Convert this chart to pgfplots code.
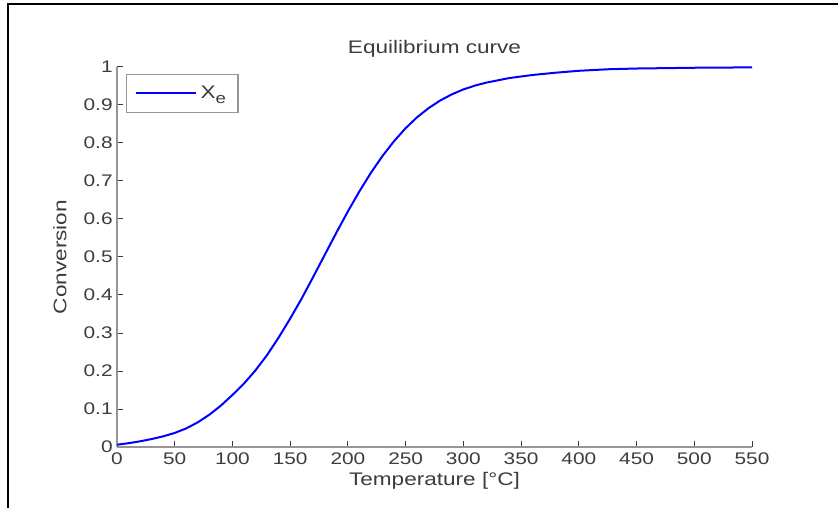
\documentclass[border=0pt]{standalone}
\usepackage{fontspec}
\setmainfont[FakeStretch=1.24]{Liberation Sans}
\usepackage{pgfplots}
\pgfplotsset{compat=1.18}
\definecolor{axgray}{RGB}{150,150,150}
\definecolor{txtgray}{RGB}{60,60,60}
\begin{document}
\begin{tikzpicture}
\useasboundingbox (0,0) rectangle (419pt,254pt);
\draw[line width=1pt] (4pt,0) -- (4pt,252pt) -- (419pt,252pt);
\begin{axis}[
  at={(58.5pt,30.5pt)}, anchor=south west,
  scale only axis, width=317.5pt, height=190pt,
  xmin=0, xmax=550, ymin=0, ymax=1,
  axis x line*=bottom, axis y line*=left,
  axis line style={-, axgray, line width=0.6pt},
  tick align=inside, major tick length=3pt,
  tick style={txtgray, line width=0.5pt},
  xtick={0,50,...,550},
  xticklabels={0,50,100,150,200,250,300,350,400,450,500,550},
  ytick={0,0.1,0.2,0.3,0.4,0.5,0.6,0.7,0.8,0.9,1},
  yticklabels={0,0.1,0.2,0.3,0.4,0.5,0.6,0.7,0.8,0.9,1},
  tick label style={font=\fontsize{8.4}{10}\selectfont, text=txtgray},
  yticklabel style={inner sep=1pt, xshift=-1pt},
  xticklabel style={inner sep=1pt, yshift=-1.5pt},
  every axis title shift=0pt,
  title={Equilibrium curve},
  title style={at={(axis description cs:0.5,1)}, anchor=center, yshift=9pt, font=\fontsize{9.1}{11}\selectfont, text=txtgray},
  xlabel={Temperature [°C]},
  xlabel style={at={(axis description cs:0.5,0)}, anchor=center, yshift=-17pt, font=\fontsize{9.1}{11}\selectfont, text=txtgray},
  ylabel={Conversion},
  ylabel style={at={(axis description cs:-0.0898,0.5)}, anchor=center, font=\fontsize{9.1}{11}\selectfont, text=txtgray},
  legend style={at={(axis description cs:0,1)}, anchor=north west, xshift=4.5pt, yshift=-3.5pt,
    draw=axgray, line width=0.6pt, inner xsep=4pt, inner ysep=3.5pt,
    font=\fontsize{9.1}{11}\selectfont, text=txtgray},
  legend image code/.code={\draw[#1] (0pt,0pt) -- (30pt,0pt);},
]
\addplot[blue, line width=1pt] coordinates {
(0,0.006) (10,0.010) (20,0.015) (30,0.021) (40,0.028) (50,0.037)
(60,0.049) (70,0.065) (80,0.085) (90,0.109) (100,0.137) (110,0.167)
(120,0.202) (130,0.242) (140,0.288) (150,0.338) (160,0.391) (170,0.448)
(180,0.506) (190,0.564) (200,0.620) (210,0.673) (220,0.722)
(230,0.766) (240,0.805) (250,0.839) (260,0.868) (270,0.892) (280,0.912)
(290,0.928) (300,0.941) (310,0.951) (320,0.959) (330,0.965) (340,0.971)
(350,0.975) (360,0.979) (380,0.985) (400,0.990) (425,0.994) (450,0.996)
(475,0.997) (500,0.998) (550,0.999)
};
\addlegendentry{X\raisebox{-0.55ex}{\fontsize{7.5}{9}\selectfont e}}
\end{axis}
\end{tikzpicture}
\end{document}
